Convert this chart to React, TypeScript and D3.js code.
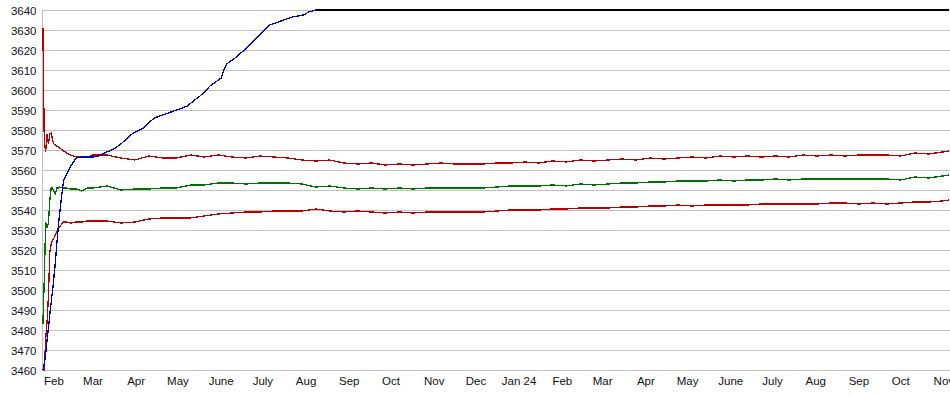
import React, { useEffect, useRef } from 'react';
import * as d3 from 'd3';

// rising series (blue) until it reaches the top of the axis
const blueDates = [
  '2023-01-24', '2023-01-25', '2023-01-26', '2023-01-27', '2023-01-28', '2023-01-29', '2023-01-30', '2023-01-31',
  '2023-02-01', '2023-02-02', '2023-02-03', '2023-02-04', '2023-02-05', '2023-02-06', '2023-02-07', '2023-02-08',
  '2023-02-10', '2023-02-13', '2023-02-17', '2023-02-21', '2023-02-25', '2023-03-01', '2023-03-05', '2023-03-09',
  '2023-03-13', '2023-03-17', '2023-03-21', '2023-03-25', '2023-03-29', '2023-04-02', '2023-04-06', '2023-04-10',
  '2023-04-14', '2023-04-18', '2023-04-22', '2023-04-26', '2023-04-30', '2023-05-04', '2023-05-08', '2023-05-12',
  '2023-05-16', '2023-05-20', '2023-05-24', '2023-05-28', '2023-06-01', '2023-06-03', '2023-06-05', '2023-06-08',
  '2023-06-12', '2023-06-16', '2023-06-20', '2023-06-24', '2023-06-28', '2023-07-02', '2023-07-06', '2023-07-10',
  '2023-07-14', '2023-07-18', '2023-07-22', '2023-07-26', '2023-07-30', '2023-08-03', '2023-08-08',
];
const blueValues = [
  3460, 3463, 3468, 3475, 3481, 3488, 3494, 3500,
  3507, 3514, 3523, 3531, 3538, 3544, 3550, 3555,
  3558, 3562, 3566, 3566.5, 3566.5, 3566.5, 3567, 3568.5,
  3569.5, 3571, 3573, 3575.5, 3578, 3579.5, 3581, 3583.5,
  3586, 3587, 3588, 3589, 3590, 3591, 3592, 3594.5,
  3596.5, 3599, 3602, 3604, 3606, 3610, 3613, 3614.5,
  3616.5, 3619, 3621.5, 3624.5, 3627, 3630, 3632.5, 3633.5,
  3634.5, 3635.5, 3636.5, 3637, 3637.5, 3639, 3640,
];

// flat cap at the axis maximum (black)
const capDates = ['2023-08-08', '2024-11-05'];
const capValues = [3640, 3640];

// shared dates of the three band series
const bandDates = [
  '2023-01-24', '2023-01-25', '2023-01-26', '2023-01-27', '2023-01-28', '2023-01-29', '2023-01-30', '2023-01-31',
  '2023-02-01', '2023-02-02', '2023-02-03', '2023-02-04', '2023-02-05', '2023-02-06', '2023-02-07', '2023-02-08',
  '2023-02-10', '2023-02-13', '2023-02-17', '2023-02-21', '2023-02-25',
  '2023-03-01', '2023-03-11', '2023-03-21', '2023-03-31', '2023-04-10', '2023-04-20', '2023-04-30', '2023-05-10',
  '2023-05-20', '2023-05-30', '2023-06-09', '2023-06-19', '2023-06-29', '2023-07-09', '2023-07-19', '2023-07-29',
  '2023-08-08', '2023-08-18', '2023-08-28', '2023-09-07', '2023-09-17', '2023-09-27', '2023-10-07', '2023-10-17',
  '2023-10-27', '2023-11-06', '2023-11-16', '2023-11-26', '2023-12-06', '2023-12-16', '2023-12-26', '2024-01-05',
  '2024-01-15', '2024-01-25', '2024-02-04', '2024-02-14', '2024-02-24', '2024-03-05', '2024-03-15', '2024-03-25',
  '2024-04-04', '2024-04-14', '2024-04-24', '2024-05-04', '2024-05-14', '2024-05-24', '2024-06-03', '2024-06-13',
  '2024-06-23', '2024-07-03', '2024-07-13', '2024-07-23', '2024-08-02', '2024-08-12', '2024-08-22', '2024-09-01',
  '2024-09-11', '2024-09-21', '2024-10-01', '2024-10-11', '2024-10-21', '2024-10-31', '2024-11-05',
];
const upperRed = [
  3631, 3575, 3569, 3578, 3573, 3578, 3578.5, 3575,
  3573, 3572.5, 3572, 3571.5, 3571, 3570.5, 3570, 3569.5,
  3568.5, 3567.5, 3566.5, 3566.5, 3566.5,
  3567.5, 3567.5, 3566, 3565, 3567, 3566, 3566, 3567.5,
  3566.5, 3567.5, 3566.5, 3566, 3567, 3566.5, 3566, 3565,
  3564.5, 3565, 3563.5, 3563, 3563.5, 3562.5, 3563, 3562.5,
  3563, 3563.5, 3563, 3563, 3563, 3563.5, 3563.5, 3564,
  3563.5, 3564.5, 3564, 3565, 3564.5, 3565, 3565.5, 3565,
  3566, 3565.5, 3566, 3566.5, 3566, 3567, 3566.5, 3567,
  3566.5, 3567, 3566.5, 3567.5, 3567, 3567.5, 3567, 3567.5,
  3567.5, 3567.5, 3567, 3568.5, 3568, 3569, 3569.5,
];
const green = [
  3483, 3505, 3534, 3531.5, 3533.5, 3545, 3551, 3551,
  3549, 3548, 3551, 3551, 3551.5, 3551, 3551.5, 3551,
  3551, 3550.5, 3550.5, 3549.5, 3551,
  3551, 3552, 3550, 3550.5, 3550.5, 3551, 3551, 3552.5,
  3552.5, 3553.5, 3553.5, 3553, 3553.5, 3553.5, 3553.5, 3553,
  3551.5, 3552, 3551, 3550.5, 3551, 3550.5, 3551, 3550.5,
  3551, 3551, 3551, 3551, 3551, 3551.5, 3552, 3552,
  3552, 3552.5, 3552, 3553, 3552.5, 3553, 3553.5, 3553.5,
  3554, 3554, 3554.5, 3554.5, 3554.5, 3555, 3554.5, 3555,
  3555, 3555.5, 3555, 3555.5, 3555.5, 3555.5, 3555.5, 3555.5,
  3555.5, 3555.5, 3555, 3556.5, 3556, 3557, 3557.5,
];
const lowerRed = [
  3460, 3460, 3475, 3484, 3497, 3519, 3523, 3525,
  3526, 3527.5, 3529, 3530.5, 3531.5, 3532.5, 3533.5, 3534,
  3534, 3533.5, 3534, 3534, 3534.5,
  3534.5, 3534.5, 3533.5, 3534, 3535.5, 3536, 3536, 3536,
  3537, 3538, 3538.5, 3539, 3539, 3539.5, 3539.5, 3539.5,
  3540.5, 3539.5, 3539, 3539.5, 3539, 3538.5, 3539, 3538.5,
  3539, 3539, 3539, 3539, 3539, 3539.5, 3540, 3540,
  3540, 3540.5, 3540.5, 3541, 3541, 3541, 3541.5, 3541.5,
  3542, 3542, 3542.5, 3542, 3542.5, 3542.5, 3542.5, 3542.5,
  3543, 3543, 3543, 3543, 3543, 3543.5, 3543.5, 3543,
  3543.5, 3543, 3543.5, 3544, 3544, 3544.5, 3545,
];

const yTicks = [3460, 3470, 3480, 3490, 3500, 3510, 3520, 3530, 3540, 3550, 3560, 3570, 3580, 3590, 3600, 3610, 3620, 3630, 3640];
const monthTicks = [
  '2023-02-01', '2023-03-01', '2023-04-01', '2023-05-01', '2023-06-01', '2023-07-01', '2023-08-01', '2023-09-01',
  '2023-10-01', '2023-11-01', '2023-12-01', '2024-01-01', '2024-02-01', '2024-03-01', '2024-04-01', '2024-05-01',
  '2024-06-01', '2024-07-01', '2024-08-01', '2024-09-01', '2024-10-01', '2024-11-01',
];
const monthLabels = ['Feb', 'Mar', 'Apr', 'May', 'June', 'July', 'Aug', 'Sep', 'Oct', 'Nov', 'Dec', 'Jan 24',
  'Feb', 'Mar', 'Apr', 'May', 'June', 'July', 'Aug', 'Sep', 'Oct', 'Nov'];

const W = 950;
const H = 395;
const left = 42;
const top = 10;
const bottom = 370;

const parse = d3.utcParse('%Y-%m-%d');

export default function App() {
  const ref = useRef<SVGSVGElement>(null);

  useEffect(() => {
    const svg = d3.select(ref.current);
    svg.selectAll('*').remove();

    const x = d3.scaleUtc()
      .domain([new Date(Date.UTC(2023, 0, 23, 9)), new Date(Date.UTC(2024, 10, 5, 10))])
      .range([left, W]);
    const y = d3.scaleLinear().domain([3460, 3640]).range([bottom, top]);

    const font = 'Liberation Sans, Arial, sans-serif';

    // horizontal grid
    svg.append('g')
      .selectAll('line')
      .data(yTicks)
      .enter()
      .append('line')
      .attr('x1', left)
      .attr('x2', W)
      .attr('y1', d => y(d) + 0.5)
      .attr('y2', d => y(d) + 0.5)
      .attr('stroke', '#c0c0c0');

    svg.append('line')
      .attr('x1', left + 0.5).attr('x2', left + 0.5)
      .attr('y1', top).attr('y2', bottom + 1)
      .attr('stroke', '#c0c0c0');

    svg.append('g')
      .selectAll('text')
      .data(yTicks)
      .enter()
      .append('text')
      .attr('x', 36.5)
      .attr('y', d => y(d) + 4.5)
      .attr('text-anchor', 'end')
      .attr('font-family', font)
      .attr('font-size', 11.5)
      .attr('fill', '#111')
      .text(d => d);

    svg.append('g')
      .selectAll('text')
      .data(monthTicks)
      .enter()
      .append('text')
      .attr('x', d => x(parse(d)!))
      .attr('y', 385)
      .attr('text-anchor', 'middle')
      .attr('font-family', font)
      .attr('font-size', 11.5)
      .attr('fill', '#111')
      .text((d, i) => monthLabels[i]);

    const line = d3.line<[Date, number]>()
      .x(d => x(d[0]))
      .y(d => y(d[1]));

    const series = [
      { dates: bandDates, values: lowerRed, color: '#bb0000' },
      { dates: bandDates, values: green, color: '#007000' },
      { dates: bandDates, values: upperRed, color: '#bb0000' },
      { dates: capDates, values: capValues, color: '#000000' },
      { dates: blueDates, values: blueValues, color: '#0000c0' },
    ];

    svg.append('g')
      .selectAll('path')
      .data(series)
      .enter()
      .append('path')
      .attr('d', s => line(s.dates.map((d, i) => [parse(d)!, s.values[i]] as [Date, number])))
      .attr('fill', 'none')
      .attr('stroke', s => s.color)
      .attr('stroke-width', 1.3)
      .attr('shape-rendering', 'crispEdges');
  }, []);

  return (
    <div style={{ position: 'absolute', left: 0, top: 0 }}>
      <svg ref={ref} width={W} height={H} style={{ display: 'block', background: '#fff' }}></svg>
    </div>
  );
}
